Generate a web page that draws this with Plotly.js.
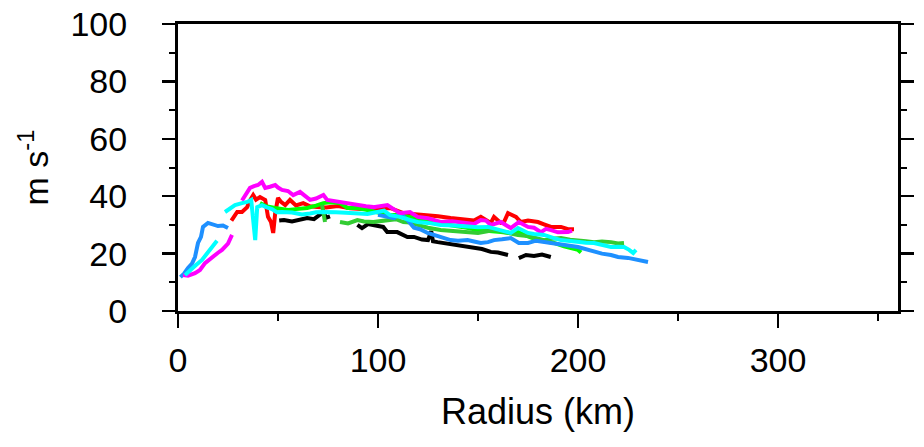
<!DOCTYPE html>
<html>
<head>
<meta charset="utf-8">
<script src="https://cdn.plot.ly/plotly-3.0.1.min.js"></script>
<style>html,body{margin:0;padding:0;background:#fff}#chart{width:924px;height:447px}</style>
</head>
<body>
<div id="chart"></div>
<script>
// Radius (km) and wind speed (m s-1) for each series
const blackR = [50.6,53,57,60,64.6,68,71,72.8,74,76,null,89.7,92,95,99,102.6,104.6,109.6,114.7,118,122,125,126.6,127.5,129.8,133,137.8,142,147.8,152,156.4,160,165,null,170.4,174,178,182,186.4];
const blackV = [31.5,31.7,31.2,31.7,32.4,32,33.4,34.5,32.5,33,null,30,28.9,30.3,29.8,29.3,27.5,27.5,25.8,25.8,24.9,24.7,27.8,24.3,24,23.7,23,22.7,22,21.6,20.6,20.4,19.5,null,18.4,19.5,19.2,19.7,18.8];

const redR = [26.7,27.6,29.6,32,34.6,36,37.6,39,41,43.6,45,46.5,47.6,48.6,50,51.5,53.6,56,59,62.6,66,69.6,74,80,86,92,99.7,106,112.7,118,124.8,130,136.3,140,144.8,148,151.4,154,156.4,158,161.4,163,165,169,171.4,175,180,183,186.5,191.5,195,198];
const redV = [31.5,32.4,34.5,34.5,36.2,38.5,40.4,38.8,39.7,38.7,32.8,31,27.2,34.1,39.4,38,36.9,38.7,36.8,37.6,36.5,36.2,36.1,36.6,35.8,35.5,35.9,35.9,34.1,33.8,33.4,33,32.4,32.2,31.7,31.5,32.8,31.8,30.7,32.8,30.7,31,34.1,32.8,31,31.5,31,30.2,29.3,29.3,28.5,28.5];

const limeR = [41,44,48.6,52,55,59,64.6,69,72.7,76,81,84.7,89,94.7,100,106,110,116,120,124.8,130,136.3,142,149.9,155,161.4,166.4,170,175,180,184,188,193,197,200,201.5];
const limeV = [37.6,36.5,35.9,35.5,35.2,35.5,35.9,36.7,37.6,37.9,37.6,35.9,36,35.2,34.5,33.4,33.5,32.8,32.4,31.5,30.6,30,29.3,28.2,28,27.5,27.2,27.5,26,24.7,24.2,23.7,22.5,21.8,21.3,20.4];

const greenR = [72,72.7,73.5,null,81,85,89.7,93,97.7,102,106,109,112.7,116,119.8,125,131.3,138,144.8,150,158,163,170,176,183,187,191.5,196,200,204,208,212,216.5,220,223];
const greenV = [37,33,31,null,31,30.5,31.7,31.2,31,31.5,31.7,32,31,30.8,30,29,28.2,27.8,27.5,27.2,28.2,27.4,26.5,26,24.7,25.2,25.4,24.8,24.7,24.3,24,24.2,24,23.5,23.7];

const blueR = [1.2,3,5,7,8.5,10,11.5,12.5,15,17.5,20,22.5,25,null,100,104,108,111,114.7,118,121,124.8,130,136.3,140,144.8,148,151.4,155,158,162,166.4,170.4,175,179,183,187,191.5,195,200,204,208,212,216.5,220,225,229,232,235];
const blueV = [11.8,13,15,16.5,18.8,23.7,25.8,29.3,30.7,30,29.6,29.8,28.9,null,33.5,33,32.4,34.1,31.7,29,28.5,27.2,26.2,24.7,24.5,24.7,24.2,23.7,24,24.7,25,25.4,23.7,23.7,24.5,24,23.6,23,22.8,22.3,21.5,20.6,20,19.5,18.8,18.5,17.8,17.3,17.1];

const magentaR = [2.5,5,8.5,11,13.5,17,20,22,25,27,null,32,33.6,36,38,40,42,43.6,46,48.6,50,52,55,57.6,61,66,69,72.7,74.6,78,82.7,86,89.7,94,97.7,101,104.7,108,111,116,119.8,125,131.3,137,144.8,148,151.4,154,156.4,161.4,166.4,170.4,175,178,181.5,184,186.5,190,195,197];
const magentaV = [12.5,12.3,13.2,14.3,16.7,18.8,20.3,21.3,23.5,26.5,null,38.5,40.4,42.9,43.5,43.9,45,42.9,43.3,43.9,43,42.2,41.8,40.4,41.5,38.7,39.2,40.4,38.7,38.3,37.6,37.5,36.9,36.5,36.2,36.4,36.9,35.4,34.1,34.5,32.8,32.3,31,31.3,30.7,30.3,31.7,31.5,30,31,28.9,31,29.3,29,27.5,28.6,28.2,27.4,27.5,28];

const cyanR = [3.5,6,9,12,15,18.5,19.5,null,23.5,25,28.5,32,34.6,36.6,37.6,38.6,39.6,42,44.4,47,49.4,52,57,62,66,69,72.7,76,79,84,89.7,94.7,99.7,103,106,111,116,119.8,125,131.3,138,144.8,150,155,161.4,166.4,170,175,178,183,187.6,191.5,196,200,204,208,212,216.5,220,223,225.6,227.6,229];
const cyanV = [12.5,14.3,16,17.8,20.5,23.7,24.5,null,34.5,35.2,36.9,37.6,38,38.7,31,24.7,36.2,36.9,36.1,35.5,34.4,34.5,34.3,33.6,34,34.4,34.5,34.6,34.4,34.2,34.1,33.8,34.5,35,33.4,32.8,31.7,31,30.7,30,29.8,29.3,29.2,29.3,28.2,27.2,28.9,27.2,26.8,26.5,25.5,24.7,24.4,24,23.8,23.7,23,22.3,22.4,22.3,21.3,20.2,21.3];

const xTicks = [0,100,200,300];
const yTicks = [0,20,40,60,80,100];

const series = [
  {r: blackR, v: blackV, c: '#000000'},
  {r: redR, v: redV, c: '#FF0000'},
  {r: limeR, v: limeV, c: '#00FF00'},
  {r: greenR, v: greenV, c: '#33CC33'},
  {r: blueR, v: blueV, c: '#1E90FF'},
  {r: magentaR, v: magentaV, c: '#FF00FF'},
  {r: cyanR, v: cyanV, c: '#00FFFF'}
];

const traces = series.map(s => ({
  x: s.r, y: s.v, type: 'scatter', mode: 'lines',
  line: {color: s.c, width: 4}, connectgaps: false, showlegend: false, hoverinfo: 'skip'
}));

const font = 'Liberation Sans, Arial, Helvetica, sans-serif';

const layout = {
  width: 924, height: 447,
  margin: {l: 178, r: 26, t: 24, b: 136, pad: 0},
  paper_bgcolor: '#fff', plot_bgcolor: '#fff',
  showlegend: false,
  font: {family: font, color: '#000'},
  xaxis: {
    range: [0, 360], tickvals: xTicks, ticktext: xTicks.map(String),
    ticks: 'outside', ticklen: 14, tickwidth: 2.5, tickcolor: '#000',
    minor: {tickvals: [50,150,250,350], ticks: 'outside', ticklen: 7, tickwidth: 2, tickcolor: '#000'},
    showline: true, linewidth: 3, linecolor: '#000', mirror: true,
    showgrid: false, zeroline: false, automargin: false,
    tickfont: {family: font, size: 34, color: '#000'},
    ticklabelstandoff: 3,
    title: {text: 'Radius (km)', font: {family: font, size: 36, color: '#000'}, standoff: 22}
  },
  yaxis: {
    range: [0, 100], tickvals: yTicks, ticktext: yTicks.map(String),
    ticks: 'outside', ticklen: 13, tickwidth: 2.5, tickcolor: '#000',
    minor: {tickvals: [10,30,50,70,90], ticks: 'outside', ticklen: 6, tickwidth: 2, tickcolor: '#000'},
    showline: true, linewidth: 3, linecolor: '#000', mirror: 'ticks',
    showgrid: false, zeroline: false, automargin: false,
    tickfont: {family: font, size: 34, color: '#000'},
    ticklabelstandoff: 28,
    title: {text: 'm s<sup>-1</sup>', font: {family: font, size: 34, color: '#000'}, standoff: 12}
  }
};

Plotly.newPlot('chart', traces, layout, {staticPlot: true, displayModeBar: false});
</script>
</body>
</html>
